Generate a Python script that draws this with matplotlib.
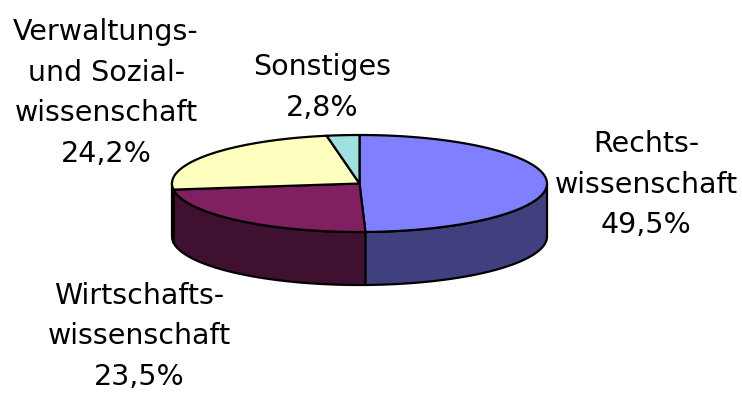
import numpy as np
import matplotlib
matplotlib.use("Agg")
import matplotlib.pyplot as plt
from matplotlib.patches import Polygon

# Faculty shares (percent), clockwise from 12 o'clock
categories = ["Rechts-\nwissenschaft", "Wirtschafts-\nwissenschaft",
              "Verwaltungs-\nund Sozial-\nwissenschaft", "Sonstiges"]
shares = [49.5, 23.5, 24.2, 2.8]

# Face colours (top) and shaded wall colours (side)
top_colors = ["#8080FF", "#802060", "#FFFFC0", "#A0E0E0"]
side_colors = ["#40407F", "#401030", "#80805F", "#507070"]

# Label anchors in pixel space: centre x, baseline of first line
label_anchor = [(646, 152), (139, 304), (106, 40), (322, 75)]
line_step = 40.5

W, H = 742, 394
fig = plt.figure(figsize=(W / 100, H / 100), dpi=100)
ax = fig.add_axes([0, 0, 1, 1])
ax.set_xlim(0, W)
ax.set_ylim(H, 0)
ax.axis("off")

cx, cy = 359.5, 183.5     # centre of top face
rx, ry = 187.5, 48.5      # ellipse radii
depth = 53                # wall height
lw = 1.6


def arc(t0, t1, dy=0.0, n=120):
    t = np.radians(np.linspace(t0, t1, n))
    return np.column_stack([cx + rx * np.cos(t), cy - ry * np.sin(t) + dy])


frac = np.array(shares) / np.sum(shares)
cum = np.concatenate([[0], np.cumsum(frac)])
starts = 90 - 360 * cum[:-1]
ends = 90 - 360 * cum[1:]

# Front walls: parts of each slice lying in the lower half of the ellipse
for s, e, sc in zip(starts, ends, side_colors):
    lo, hi = min(s, e), max(s, e)
    for k in (-1, 0, 1):
        flo, fhi = -180 + 360 * k, 0 + 360 * k
        a, b = max(lo, flo), min(hi, fhi)
        if b - a > 1e-6:
            top = arc(a, b)
            bot = arc(b, a, dy=depth)
            ax.add_patch(Polygon(np.vstack([top, bot]), closed=True,
                                 facecolor=sc, edgecolor="black",
                                 linewidth=lw, joinstyle="round"))

# Top face wedges
for s, e, tc in zip(starts, ends, top_colors):
    pts = np.vstack([[cx, cy], arc(s, e)])
    ax.add_patch(Polygon(pts, closed=True, facecolor=tc,
                         edgecolor="black", linewidth=lw, joinstyle="round"))

# Labels: category name plus share
for name, val, (lx, ly) in zip(categories, shares, label_anchor):
    lines = name.split("\n") + [f"{val:.1f}%".replace(".", ",")]
    for i, line in enumerate(lines):
        ax.text(lx, ly + i * line_step, line, ha="center", va="baseline",
                fontsize=20.5, family="DejaVu Sans", color="black")

fig.savefig("out.png", dpi=100)
